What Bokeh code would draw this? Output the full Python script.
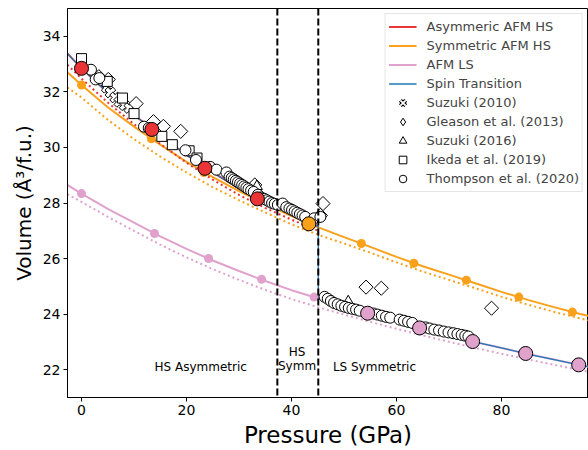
import math

from bokeh.core.properties import value
from bokeh.embed import file_html
from bokeh.models import Legend, LegendItem, Range1d, Span
from bokeh.plotting import figure
from bokeh.resources import INLINE

FONT = "DejaVu Sans"

RED = "#e93535"
ORANGE = "#f9a11b"
PINK = "#e0a2cd"
BLUE = "#1f77b4"

# ---------------------------------------------------------------- EOS curves
# high-spin (asymmetric AFM) equation of state, solid and dotted variants
hs_asym_p = [-2.7, 0, 5, 10, 15, 20, 25, 30, 35, 40, 45.1]
hs_asym_v = [33.39, 32.85, 31.97, 31.17, 30.44, 29.73, 29.10, 28.53, 28.02, 27.58, 27.16]
hs_asym_dot_v = [32.98, 32.48, 31.62, 30.84, 30.13, 29.45, 28.84, 28.29, 27.82, 27.40, 27.00]

# symmetric AFM HS and AFM LS curves share one pressure grid
curve_p = [-2.7, 0, 5, 10, 15, 20, 25, 30, 35, 40, 45, 50, 55, 60, 65, 70,
           75, 80, 85, 90, 95, 96.6]
hs_sym_v = [32.71, 32.25, 31.45, 30.75, 30.10, 29.48, 28.93, 28.43, 27.97, 27.53,
            27.13, 26.77, 26.42, 26.06, 25.72, 25.42, 25.11, 24.80, 24.51, 24.25,
            24.00, 23.93]
hs_sym_dot_v = [32.16, 31.80, 31.00, 30.30, 29.67, 29.10, 28.57, 28.10, 27.66, 27.23,
                26.86, 26.54, 26.21, 25.86, 25.53, 25.23, 24.93, 24.62, 24.34, 24.08,
                23.84, 23.77]
ls_v = [28.65, 28.34, 27.79, 27.29, 26.80, 26.35, 25.93, 25.55, 25.19, 24.86,
        24.57, 24.28, 24.00, 23.73, 23.47, 23.22, 22.99, 22.78, 22.56, 22.36,
        22.16, 22.10]
ls_dot_v = [28.32, 28.04, 27.50, 27.00, 26.50, 26.04, 25.62, 25.23, 24.87, 24.54,
            24.25, 23.98, 23.72, 23.47, 23.23, 23.00, 22.78, 22.57, 22.37, 22.17,
            21.98, 21.92]

# spin-transition path: HS branch, jump at the transition, LS branch
trans_p = [-2.7, 0, 5, 10, 15, 20, 25, 30, 35, 40, 45.1, 45.1, 50, 55, 60, 65,
           70, 75, 80, 85, 90, 95, 96.6]
trans_v = [33.39, 32.85, 31.97, 31.17, 30.44, 29.73, 29.10, 28.53, 28.02, 27.58,
           27.16, 24.56, 24.28, 24.00, 23.73, 23.47, 23.22, 22.99, 22.78, 22.56,
           22.36, 22.16, 22.10]

# ------------------------------------------------------------ computed points
asym_pts_p = [0, 13.4, 23.5, 33.5]
asym_pts_v = [32.85, 30.65, 29.25, 28.15]

sym_pts_p = [0, 13.3, 23.3, 33.3, 43.3, 53.3, 63.3, 73.3, 83.3, 93.5]
sym_pts_v = [32.25, 30.31, 29.10, 28.10, 27.25, 26.54, 25.83, 25.22, 24.61, 24.07]
sym_stable_p = [43.3]
sym_stable_v = [27.25]

ls_pts_p = [0, 13.9, 24.2, 34.3, 44.3, 54.5, 64.4, 74.5, 84.6, 94.7]
ls_pts_v = [28.34, 26.90, 26.00, 25.25, 24.61, 24.03, 23.50, 23.01, 22.58, 22.17]
ls_stable_p = [54.5, 64.4, 74.5, 84.6, 94.7]
ls_stable_v = [24.03, 23.50, 23.01, 22.58, 22.17]

# -------------------------------------------------------- experimental data
suzuki2010_p = [0, 4.8, 5.5, 6.4, 7.2, 8.2, 9.1]
suzuki2010_v = [33.10, 32.15, 31.98, 31.80, 31.64, 31.52, 31.42]

gleason2013_p = [3.3, 5.1, 10.4, 13.7, 15.6, 18.9, 33.0, 45.5, 46.0, 54.2, 57.1, 78.1]
gleason2013_v = [32.55, 32.45, 31.58, 30.93, 30.76, 30.58, 28.65, 27.55, 27.98,
                 24.97, 24.93, 24.21]

suzuki2016_p = [0, 33.4, 50.8]
suzuki2016_v = [33.00, 28.60, 24.45]

ikeda2019_p = [0, 4.9, 7.8, 10.0, 15.3, 17.3, 20.5, 22.0]
ikeda2019_v = [33.20, 32.38, 31.78, 31.22, 30.40, 30.10, 29.88, 29.62]

thompson2020_p = [1.8, 2.7, 3.4, 11.9, 12.8, 19.8, 21.8, 24.5, 25.7, 27.6, 28.2,
                  28.6, 29.0, 29.4, 29.8, 30.2, 30.6, 31.0, 31.4, 31.8, 32.3, 32.8,
                  33.6, 34.2, 34.8, 35.3, 35.8, 36.3, 36.8, 37.4, 38.3, 39.0, 39.6,
                  40.1, 40.6, 41.1, 41.6, 42.1, 42.6, 44.3, 45.5,
                  46.3, 46.9, 47.5, 48.1, 48.8, 49.5, 50.2, 50.9, 51.6, 52.3, 53.0,
                  55.6, 56.4, 57.2, 58.0, 58.8, 60.6, 61.4, 62.2, 63.0, 65.5, 66.3,
                  67.2, 68.1, 69.0, 69.9, 70.8, 71.6, 72.4, 73.1, 73.7]
thompson2020_v = [32.80, 32.45, 32.50, 30.75, 30.70, 29.90, 29.55, 29.30, 29.20,
                  29.10, 28.95, 28.90, 28.85, 28.80, 28.75, 28.70, 28.65, 28.60,
                  28.55, 28.50, 28.45, 28.40, 28.30, 28.20, 28.15, 28.10, 28.05,
                  28.00, 27.97, 27.93, 27.98, 27.85, 27.80, 27.75, 27.70, 27.65,
                  27.60, 27.55, 27.50, 27.45, 27.50,
                  24.62, 24.55, 24.47, 24.40, 24.35, 24.30, 24.26, 24.22, 24.19,
                  24.16, 24.12, 24.02, 23.98, 23.94, 23.90, 23.87, 23.80, 23.76,
                  23.72, 23.68, 23.52, 23.48, 23.44, 23.41, 23.37, 23.34, 23.31,
                  23.28, 23.25, 23.22, 23.19]

# phase boundaries (GPa) and region labels
boundaries = [37.3, 45.1]
region_x = [22.7, 41.05, 41.05, 55.8]
region_y = [22.1, 22.62, 22.12, 22.1]
region_text = ["HS Asymmetric", "HS", "Symm", "LS Symmetric"]

x_ticks = [0, 20, 40, 60, 80]
y_ticks = [22, 24, 26, 28, 30, 32, 34]

# ------------------------------------------------------------------ figure
p = figure(width=588, height=450, output_backend="svg", toolbar_location=None,
           x_range=Range1d(-2.67, 96.57), y_range=Range1d(20.994, 35.006),
           min_border_left=67, min_border_right=0, min_border_top=8,
           min_border_bottom=52)
p.grid.visible = False
p.outline_line_color = "black"
p.outline_line_width = 1
p.background_fill_color = "white"

for ax in (p.xaxis[0], p.yaxis[0]):
    ax.major_label_text_font = FONT
    ax.major_label_text_font_size = "14px"
    ax.major_label_text_color = "black"
    ax.axis_label_text_font = FONT
    ax.axis_label_text_font_style = "normal"
    ax.axis_label_text_color = "black"
    ax.axis_line_color = "black"
    ax.major_tick_line_color = "black"
    ax.major_tick_out = 4
    ax.major_tick_in = 0
    ax.minor_tick_line_color = None
    ax.major_label_standoff = 3
    ax.axis_label_standoff = 4

p.xaxis.axis_label_text_font_size = "23px"
p.yaxis.axis_label_text_font_size = "20px"
p.xaxis.ticker = x_ticks
p.yaxis.ticker = y_ticks
p.xaxis.axis_label = "Pressure (GPa)"
p.yaxis.axis_label = "Volume (Å³/f.u.)"

for b in boundaries:
    p.add_layout(Span(location=b, dimension="height", line_color="black",
                      line_width=2, line_dash="7 3"))

# curves
r_ls = p.line(curve_p, ls_v, line_color=PINK, line_width=2)
p.line(curve_p, ls_dot_v, line_color=PINK, line_width=2, line_dash="2 3")
r_sym = p.line(curve_p, hs_sym_v, line_color=ORANGE, line_width=2)
p.line(curve_p, hs_sym_dot_v, line_color=ORANGE, line_width=2, line_dash="2 3")
r_asym = p.line(hs_asym_p, hs_asym_v, line_color=RED, line_width=2)
p.line(hs_asym_p, hs_asym_dot_v, line_color=RED, line_width=2, line_dash="2 3")
r_trans = p.line(trans_p, trans_v, line_color=BLUE, line_width=1.3)

p.scatter(ls_pts_p, ls_pts_v, size=9, fill_color=PINK, line_color=None)
p.scatter(sym_pts_p, sym_pts_v, size=9, fill_color=ORANGE, line_color=None)

# experimental data
mk = dict(fill_color="white", line_color="black", line_width=1)
r_s10 = p.scatter(suzuki2010_p, suzuki2010_v, marker="plus", angle=math.pi / 4,
                  size=11, **mk)
r_g13 = p.scatter(gleason2013_p, gleason2013_v, marker="square", angle=math.pi / 4,
                  size=10, **mk)
r_s16 = p.scatter(suzuki2016_p, suzuki2016_v, marker="triangle", size=11, **mk)
r_i19 = p.scatter(ikeda2019_p, ikeda2019_v, marker="square", size=10, **mk)
r_t20 = p.scatter(thompson2020_p, thompson2020_v, marker="circle", size=11, **mk)

# stable-phase computed points on top
p.scatter(asym_pts_p, asym_pts_v, size=14, fill_color=RED, line_color="black")
p.scatter(sym_stable_p, sym_stable_v, size=14, fill_color=ORANGE, line_color="black")
p.scatter(ls_stable_p, ls_stable_v, size=14, fill_color=PINK, line_color="black")

p.text(x=region_x, y=region_y, text=region_text, text_font=value(FONT),
       text_font_size="12px", text_align="center", text_baseline="middle",
       text_color="black")

# legend keys for the rotated markers (legend glyphs are drawn unrotated);
# a single NaN point keeps them out of the plot area
nan = [float("nan")]
key_s10_edge = p.scatter(nan, nan, marker="x", line_color="black", line_width=4)
key_s10_fill = p.scatter(nan, nan, marker="x", line_color="white", line_width=1.8)
key_g13 = p.scatter(nan, nan, marker="diamond", **mk)

legend = Legend(items=[
    LegendItem(label="Asymmeric AFM HS", renderers=[r_asym]),
    LegendItem(label="Symmetric AFM HS", renderers=[r_sym]),
    LegendItem(label="AFM LS", renderers=[r_ls]),
    LegendItem(label="Spin Transition", renderers=[r_trans]),
    LegendItem(label="Suzuki (2010)", renderers=[key_s10_edge, key_s10_fill]),
    LegendItem(label="Gleason et al. (2013)", renderers=[key_g13]),
    LegendItem(label="Suzuki (2016)", renderers=[r_s16]),
    LegendItem(label="Ikeda et al. (2019)", renderers=[r_i19]),
    LegendItem(label="Thompson et al. (2020)", renderers=[r_t20]),
], location="top_right")
legend.margin = 5
legend.padding = 3
legend.spacing = 0
legend.glyph_width = 28
legend.glyph_height = 19
legend.label_height = 19
legend.label_standoff = 10
legend.label_text_font = FONT
legend.label_text_font_size = "13px"
legend.border_line_color = "#cccccc"
legend.background_fill_alpha = 0.8
p.add_layout(legend)

open("out.html", "w").write(file_html(p, INLINE))
